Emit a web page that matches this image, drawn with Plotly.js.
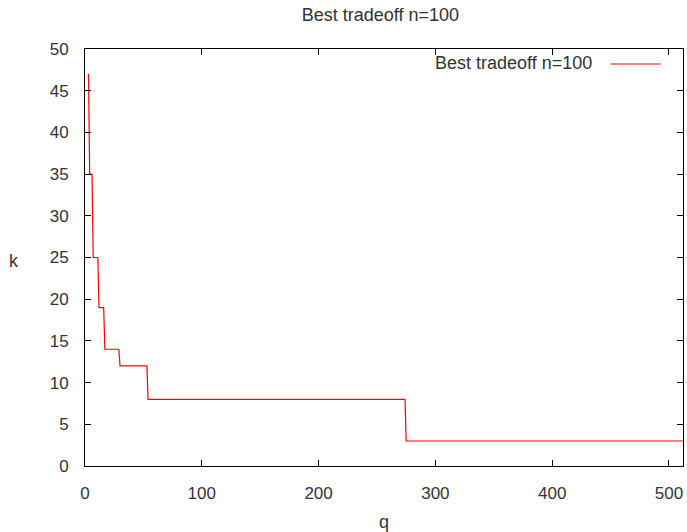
<!DOCTYPE html>
<html>
<head>
<meta charset="utf-8">
<script src="https://cdn.plot.ly/plotly-3.0.1.min.js"></script>
<style>html,body{margin:0;padding:0;background:#fff}#chart{width:687px;height:532px}</style>
</head>
<body>
<div id="chart"></div>
<script>
// Data (q, k) points
const qValues = [3, 4, 6, 7, 11, 12, 16, 17, 29, 30, 53, 54, 274, 275, 512];
const kValues = [47, 35, 35, 25, 25, 19, 19, 14, 14, 12, 12, 8, 8, 3, 3];
const seriesName = "Best tradeoff n=100";
const chartTitle = "Best tradeoff n=100";
const xTitle = "q";
const yTitle = "k";
const xTicks = [0, 100, 200, 300, 400, 500];
const yTicks = [0, 5, 10, 15, 20, 25, 30, 35, 40, 45, 50];

const FONT = "Liberation Sans, Arial, sans-serif";
const TXT = "#333333";
const FS = 17;
const FS_TEXT = 18;
const PW = 598.3, PH = 417.5, PL = 85, PT = 49;

const trace = {
  x: qValues, y: kValues, type: "scatter", mode: "lines",
  name: seriesName, line: {color: "#ff0000", width: 1.2},
  showlegend: false, hoverinfo: "skip"
};

const axisCommon = {
  showgrid: false, zeroline: false, showline: true, linecolor: "#000", linewidth: 1,
  mirror: "allticks", ticks: "inside", ticklen: 6, tickcolor: "#000", tickwidth: 1,
  tickfont: {family: FONT, size: FS, color: TXT}
};

const layout = {
  width: 687, height: 532,
  margin: {l: 85, r: 4, t: 49, b: 66},
  paper_bgcolor: "#fff", plot_bgcolor: "#fff",
  font: {family: FONT, size: FS, color: TXT},
  title: {text: chartTitle, xref: "paper", x: 0.494, xanchor: "center",
          yref: "container", y: 1 - 15 / 532, yanchor: "middle",
          font: {family: FONT, size: FS_TEXT, color: TXT}},
  xaxis: Object.assign({}, axisCommon, {
    range: [0, 512], tickvals: xTicks, ticktext: xTicks.map(String), ticklabelstandoff: 12,
    title: {text: xTitle, standoff: 14, font: {family: FONT, size: FS_TEXT, color: TXT}}
  }),
  yaxis: Object.assign({}, axisCommon, {
    range: [0, 50], tickvals: yTicks, ticktext: yTicks.map(String), ticklabelstandoff: 12
  }),
  annotations: [{
    xref: "paper", yref: "paper", x: (594 - PL) / PW, y: 1 - (63 - PT) / PH,
    xanchor: "right", yanchor: "middle", text: seriesName, showarrow: false,
    font: {family: FONT, size: FS_TEXT, color: TXT}
  }, {
    xref: "paper", yref: "paper", x: (14 - PL) / PW, y: 1 - (261 - PT) / PH,
    xanchor: "center", yanchor: "middle", text: yTitle, showarrow: false,
    font: {family: FONT, size: FS_TEXT, color: TXT}
  }],
  shapes: [{
    type: "line", xref: "paper", yref: "paper",
    x0: (611 - PL) / PW, x1: (661 - PL) / PW,
    y0: 1 - (64 - PT) / PH, y1: 1 - (64 - PT) / PH,
    line: {color: "#ff0000", width: 1.2}
  }]
};

Plotly.newPlot("chart", [trace], layout, {staticPlot: true, displayModeBar: false});
</script>
</body>
</html>
